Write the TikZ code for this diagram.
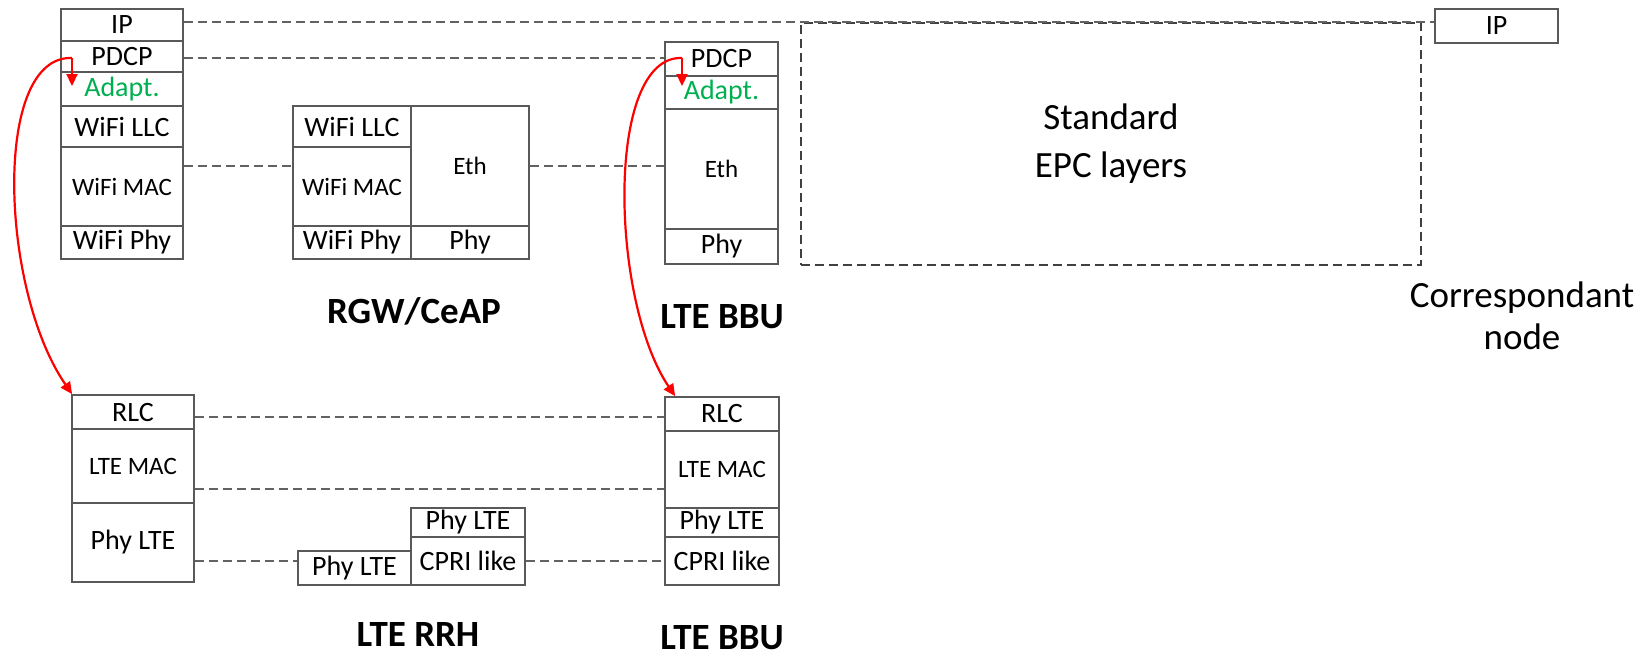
\documentclass[tikz,border=0pt]{standalone}
\usepackage{fontspec}
\setmainfont{Carlito}
\usetikzlibrary{arrows.meta}
\definecolor{boxgray}{HTML}{595959}
\definecolor{dashgray}{HTML}{626262}
\definecolor{epcgray}{HTML}{404040}
\definecolor{adaptgreen}{HTML}{00B050}
\tikzset{
 cellbox/.style={draw=boxgray, line width=1.7pt, inner sep=0pt, font=\fontsize{28}{32}\selectfont, text=black},
 smalltxt/.style={font=\fontsize{25}{30}\selectfont},
 dline/.style={draw=dashgray, line width=1.7pt, dash pattern=on 9pt off 5pt},
 redarrow/.style={draw=red, line width=2.2pt, -{Triangle[length=12pt,width=11pt]}},
 titletxt/.style={font=\bfseries\fontsize{37}{44}\selectfont, anchor=base},
 bigtxt/.style={font=\fontsize{37}{44}\selectfont, anchor=base},
}
\newcommand\cell[7][]{%
 \pgfmathsetmacro\cw{#5-#3}\pgfmathsetmacro\ch{#6-#4}%
 \node[cellbox,#1,minimum width=\cw pt,minimum height=\ch pt] (#2) at ({(#3+#5)/2},{(#4+#6)/2}) {#7};}
\begin{document}
\begin{tikzpicture}[x=1pt,y=-1pt]
\useasboundingbox (0,0) rectangle (1651,657);
% UE stack (top left)
\cell{ip}{61}{9}{183}{41}{IP}
\cell{pdcp}{61}{41}{183}{72}{PDCP}
\cell[text=adaptgreen]{adapt}{61}{72}{183}{106}{Adapt.}
\cell{wllc}{61}{106}{183}{147}{WiFi LLC}
\cell[smalltxt]{wmac}{61}{147}{183}{226}{WiFi MAC}
\cell{wphy}{61}{226}{183}{259}{WiFi Phy}
% RGW/CeAP
\cell{rllc}{293}{106}{411}{147}{WiFi LLC}
\cell[smalltxt]{rmac}{293}{147}{411}{226}{WiFi MAC}
\cell{rphy}{293}{226}{411}{259}{WiFi Phy}
\cell[smalltxt]{reth}{411}{106}{529}{226}{Eth}
\cell{rephy}{411}{226}{529}{259}{Phy}
% LTE BBU top
\cell{bpdcp}{665}{42}{778}{76}{PDCP}
\cell[text=adaptgreen]{badapt}{665}{76}{778}{109}{Adapt.}
\cell[smalltxt]{beth}{665}{109}{778}{229}{Eth}
\cell{bphy}{665}{229}{778}{264}{Phy}
% EPC
\node[draw=epcgray, line width=1.7pt, dash pattern=on 9pt off 5pt, minimum width=620pt, minimum height=242pt, inner sep=0pt,
      font=\fontsize{37}{48}\selectfont, align=center] (epc) at (1111,144) {Standard\\EPC layers};
\cell{cip}{1435}{9}{1558}{43}{IP}
% bottom left stack
\cell{lrlc}{72}{395}{194}{429}{RLC}
\cell[smalltxt]{lmac}{72}{429}{194}{503}{LTE MAC}
\cell{lphy}{72}{503}{194}{582}{Phy LTE}
% RRH
\cell{rrphya}{298}{551}{411}{585}{Phy LTE}
\cell{rrphyb}{411}{508}{525}{537}{Phy LTE}
\cell{rrcpri}{411}{537}{525}{585}{CPRI like}
% BBU bottom
\cell{brlc}{665}{397}{779}{431}{RLC}
\cell[smalltxt]{bmac}{665}{431}{779}{508}{LTE MAC}
\cell{bphyb}{665}{508}{779}{537}{Phy LTE}
\cell{bcpri}{665}{537}{779}{585}{CPRI like}
% dashed peer links
\draw[dline] (ip.east |- epc.north) -- (cip.west |- epc.north);
\draw[dline] (pdcp.east |- 0,58) -- (bpdcp.west |- 0,58);
\draw[dline] (wmac.east |- reth.center) -- (rmac.west |- reth.center);
\draw[dline] (reth.east) -- (reth.east -| beth.west);
\draw[dline] (lrlc.east |- 0,417) -- (brlc.west |- 0,417);
\draw[dline] (lmac.east |- 0,489) -- (bmac.west |- 0,489);
\draw[dline] (lphy.east |- rrcpri.center) -- (rrphya.west |- rrcpri.center);
\draw[dline] (rrcpri.east) -- (rrcpri.east -| bcpri.west);
% labels
\node[titletxt] (lrgw) at (414,323) {RGW/CeAP};
\node[titletxt] (lbbu1) at (722,328) {LTE BBU};
\node[titletxt] (lrrh) at (418,646) {LTE RRH};
\node[titletxt] (lbbu2) at (722,649) {LTE BBU};
\node[bigtxt] (lcn1) at (1522,307) {Correspondant};
\node[bigtxt] (lcn2) at (1522,349) {node};
% red arrows
\coordinate (lA) at (72,58);
\coordinate (lB) at (72,86);
\draw[redarrow] (lA) -- (lB);
\draw[redarrow] (lA) .. controls (-8,55) and (0,290) .. ([xshift=1pt]lrlc.north west);
\coordinate (rA) at (682,58);
\coordinate (rB) at (682,86);
\draw[redarrow] (rA) -- (rB);
\draw[redarrow] (rA) .. controls (605,55) and (610,300) .. ([xshift=11pt]brlc.north west);
\end{tikzpicture}
\end{document}
